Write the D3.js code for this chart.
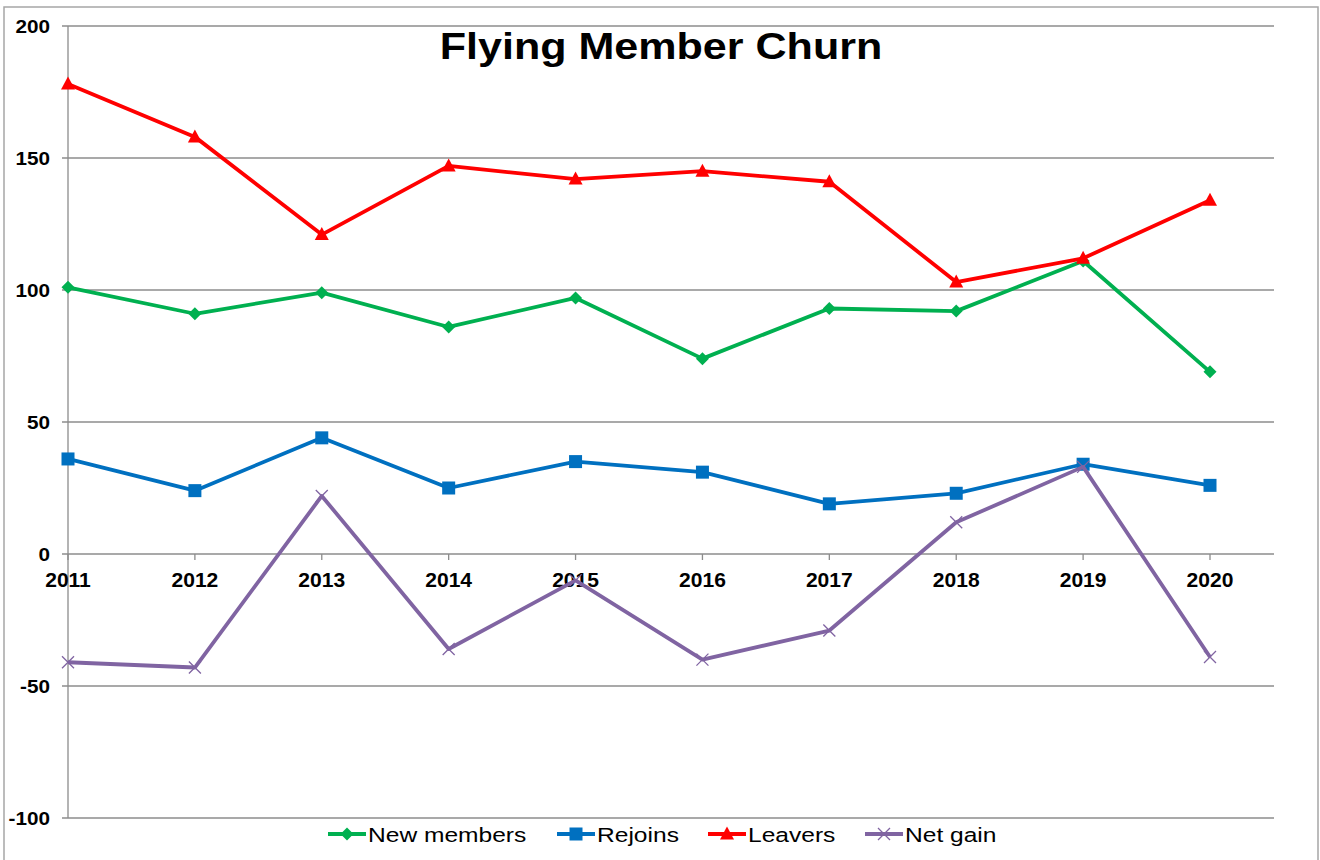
<!DOCTYPE html>
<html><head><meta charset="utf-8">
<script src="https://cdn.jsdelivr.net/npm/d3@7"></script>
<style>body{margin:0;background:#fff}svg{display:block}text{font-family:"Liberation Sans",Arial,sans-serif}</style>
</head><body><svg id="c" width="1320" height="860"></svg>
<script>
const years = ["2011","2012","2013","2014","2015","2016","2017","2018","2019","2020"];
const newMembers = [101, 91, 99, 86, 97, 74, 93, 92, 111, 69];
const rejoins = [36, 24, 44, 25, 35, 31, 19, 23, 34, 26];
const leavers = [178, 158, 121, 147, 142, 145, 141, 103, 112, 134];
const netGain = [-41, -43, 22, -36, -10, -40, -29, 12, 33, -39];
const yTicks = [200, 150, 100, 50, 0, -50, -100];
const seriesNames = ["New members", "Rejoins", "Leavers", "Net gain"];
const title = "Flying Member Churn";

const svg = d3.select("#c");
const L = 68, R = 1274, T = 26, B = 818;
const x = d3.scalePoint().domain(years).range([68, 1210]);
const y = d3.scaleLinear().domain([-100, 200]).range([B, T]);

// outer border
svg.append("rect").attr("x",4).attr("y",7).attr("width",1314).attr("height",870)
  .attr("fill","none").attr("stroke","#a6a6a6").attr("stroke-width",1.5);

// gridlines
svg.append("g").selectAll("line").data(yTicks).join("line")
  .attr("x1", L-6).attr("x2", R).attr("y1", d=>y(d)).attr("y2", d=>y(d))
  .attr("stroke","#8c8c8c").attr("stroke-width",1.3);
// y axis line
svg.append("line").attr("x1",L).attr("x2",L).attr("y1",T).attr("y2",B)
  .attr("stroke","#8c8c8c").attr("stroke-width",1.3);
// x ticks on zero line
svg.append("g").selectAll("line").data(years).join("line")
  .attr("x1", d=>x(d)).attr("x2", d=>x(d)).attr("y1", y(0)).attr("y2", y(0)+6)
  .attr("stroke","#8c8c8c").attr("stroke-width",1.3);

function stretchedText(g, tx, ty, str, size, sx, anchor, weight){
  return g.append("text").attr("transform",`translate(${tx},${ty}) scale(${sx},1)`)
    .attr("text-anchor",anchor).attr("font-size",size).attr("font-weight",weight).attr("fill","#000").text(str);
}
const lab = svg.append("g");
yTicks.forEach(t => stretchedText(lab, 50, y(t)+6.5, String(t), 18.5, 1.12, "end", "bold"));
years.forEach(yr => stretchedText(lab, x(yr), y(0)+33, yr, 19.5, 1.08, "middle", "bold"));
stretchedText(lab, 661, 59, title, 36.5, 1.18, "middle", "bold");

const colors = ["#00B050", "#0070C0", "#FF0000", "#8064A2"];
const data = [newMembers, rejoins, leavers, netGain];
const shapes = ["diamond","square","triangle","x"];

function marker(g, shape, color, cx, cy){
  if (shape === "diamond") {
    g.append("path").attr("d", `M${cx},${cy-6.5}L${cx+6.5},${cy}L${cx},${cy+6.5}L${cx-6.5},${cy}Z`).attr("fill",color);
  } else if (shape === "square") {
    g.append("rect").attr("x",cx-6.5).attr("y",cy-6.5).attr("width",13).attr("height",13).attr("fill",color);
  } else if (shape === "triangle") {
    g.append("path").attr("d", `M${cx},${cy-7.5}L${cx+7},${cy+5.5}L${cx-7},${cy+5.5}Z`).attr("fill",color);
  } else {
    g.append("path").attr("d", `M${cx-6},${cy-6}L${cx+6},${cy+6}M${cx-6},${cy+6}L${cx+6},${cy-6}`)
      .attr("stroke",color).attr("stroke-width",1.3).attr("fill","none");
  }
}

const line = d3.line().x((d,i)=>x(years[i])).y(d=>y(d));
data.forEach((vals, k) => {
  const g = svg.append("g");
  g.append("path").attr("d", line(vals)).attr("fill","none").attr("stroke",colors[k])
    .attr("stroke-width",3.8).attr("stroke-linejoin","round");
  vals.forEach((v,i) => marker(g, shapes[k], colors[k], x(years[i]), y(v)));
});

// legend
const legX = [328, 557, 708, 865];
const leg = svg.append("g");
seriesNames.forEach((n,k) => {
  const lx = legX[k], ly = 834;
  leg.append("line").attr("x1",lx).attr("x2",lx+38).attr("y1",ly).attr("y2",ly)
    .attr("stroke",colors[k]).attr("stroke-width",3.8);
  marker(leg, shapes[k], colors[k], lx+19, ly);
  stretchedText(leg, lx+40, 842, n, 19.5, 1.26, "start", "normal");
});
</script></body></html>
